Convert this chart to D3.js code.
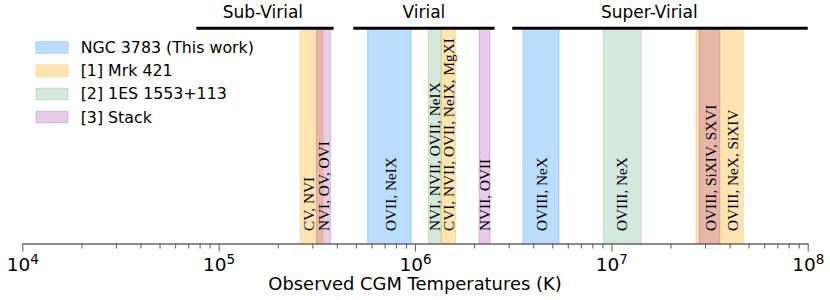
<!DOCTYPE html>
<html>
<head>
<meta charset="utf-8">
<script src="https://cdn.jsdelivr.net/npm/d3@7"></script>
<style>
  body { margin: 0; background: #fff; }
  svg { display: block; }
</style>
</head>
<body>
<div class="container"></div>
<script>
// temperature regimes drawn as bars over the top of the plot
const regionNames = ["Sub-Virial", "Virial", "Super-Virial"];
const regionLow = [7.7e4, 4.85e5, 3.13e6];
const regionHigh = [3.85e5, 2.54e6, 1e8];
const regionLabelT = [1.68e5, 1.11e6, 1.56e7];

// legend entries
const sources = ["NGC 3783 (This work)", "[1] Mrk 421", "[2] 1ES 1553+113", "[3] Stack"];

// temperature bands (K): source index, range, ion label, label position
const bandSource = [1, 3, 0, 2, 1, 3, 0, 2, 1, 3];
const bandLow = [2.6e5, 3.15e5, 5.74e5, 1.17e6, 1.36e6, 2.12e6, 3.54e6, 9.1e6, 2.7e7, 2.8e7];
const bandHigh = [3.4e5, 3.71e5, 9.55e5, 1.36e6, 1.61e6, 2.41e6, 5.41e6, 1.42e7, 4.7e7, 3.57e7];
const bandLabel = [
  "CV, NVI",
  "NVI, OV, OVI",
  "OVII, NeIX",
  "NVI, NVII, OVII, NeIX",
  "CVI, NVII, OVII, NeIX, MgXI",
  "NVII, OVII",
  "OVIII, NeX",
  "OVIII, NeX",
  "OVIII, NeX, SiXIV",
  "OVIII, SiXIV, SXVI"
];
const bandLabelT = [2.86e5, 3.41e5, 7.46e5, 1.254e6, 1.478e6, 2.254e6, 4.42e6, 1.129e7, 4.13e7, 3.18e7];

// axis ticks
const majorTicks = [1e4, 1e5, 1e6, 1e7, 1e8];
const majorExponents = ["4", "5", "6", "7", "8"];

const colors = ["dodgerblue", "orange", "seagreen", "purple"];
const alphas = [0.3, 0.3, 0.2, 0.2];

const width = 830;
const height = 300;
const plotTop = 28.3;
const axisY = 243.5;

function drawChart() {
  const svg = d3
    .select(".container")
    .append("svg")
    .attr("width", width)
    .attr("height", height);

  const x = d3.scaleLog().domain([1e4, 1e8]).range([22.3, 807.7]);

  const bands = d3.range(bandLow.length);

  svg
    .append("g")
    .attr("id", "bands")
    .selectAll("rect")
    .data(bands)
    .enter()
    .append("rect")
    .attr("x", i => x(bandLow[i]))
    .attr("y", plotTop)
    .attr("width", i => x(bandHigh[i]) - x(bandLow[i]))
    .attr("height", axisY - plotTop)
    .attr("fill", i => colors[bandSource[i]])
    .attr("fill-opacity", i => alphas[bandSource[i]])
    .attr("stroke", i => colors[bandSource[i]])
    .attr("stroke-opacity", i => alphas[bandSource[i]])
    .attr("stroke-width", 1);

  svg
    .append("g")
    .attr("id", "band-labels")
    .selectAll("text")
    .data(bands)
    .enter()
    .append("text")
    .attr("transform", i => `translate(${x(bandLabelT[i])}, 231) rotate(-90)`)
    .attr("text-anchor", "start")
    .attr("dominant-baseline", "central")
    .attr("font-family", "Liberation Serif, serif")
    .attr("font-size", 15.3)
    .attr("fill", "#000")
    .text(i => bandLabel[i]);

  // regime bars and titles
  const regions = svg.append("g").attr("id", "regions");
  regions
    .selectAll("line")
    .data(regionNames)
    .enter()
    .append("line")
    .attr("x1", (d, i) => x(regionLow[i]))
    .attr("x2", (d, i) => x(regionHigh[i]))
    .attr("y1", plotTop)
    .attr("y2", plotTop)
    .attr("stroke", "#000")
    .attr("stroke-width", 3);
  regions
    .selectAll("text")
    .data(regionNames)
    .enter()
    .append("text")
    .attr("x", (d, i) => x(regionLabelT[i]))
    .attr("y", 17.5)
    .attr("text-anchor", "middle")
    .attr("font-family", "DejaVu Sans, sans-serif")
    .attr("font-size", 17)
    .text(d => d);

  // x axis
  const minorTicks = [];
  majorTicks.slice(0, -1).forEach(t => {
    for (let k = 2; k <= 9; k++) minorTicks.push(t * k);
  });

  svg
    .append("g")
    .attr("id", "x-minor")
    .attr("transform", `translate(0, ${axisY})`)
    .call(d3.axisBottom(x).tickValues(minorTicks).tickSize(5).tickFormat(""))
    .call(g => g.select(".domain").remove())
    .call(g => g.selectAll("line").attr("stroke", "#666").attr("stroke-width", 1.1));

  const xAxis = svg
    .append("g")
    .attr("id", "x-axis")
    .attr("transform", `translate(0, ${axisY})`)
    .call(d3.axisBottom(x).tickValues(majorTicks).tickSize(8).tickSizeOuter(0));

  xAxis.select(".domain").attr("stroke", "#666").attr("stroke-width", 1.3);
  xAxis.selectAll("line").attr("stroke", "#666").attr("stroke-width", 1.1);
  xAxis
    .selectAll("text")
    .attr("y", 27)
    .attr("dy", 0)
    .attr("font-family", "DejaVu Sans, sans-serif")
    .attr("font-size", 18.5)
    .attr("fill", "#000")
    .each(function(d, i) {
      const t = d3.select(this).text("10");
      t.append("tspan")
        .attr("dy", -6.8)
        .attr("font-size", 13.5)
        .text(majorExponents[i]);
    });

  svg
    .append("text")
    .attr("x", x(1e6))
    .attr("y", 289.5)
    .attr("text-anchor", "middle")
    .attr("font-family", "DejaVu Sans, sans-serif")
    .attr("font-size", 17.9)
    .text("Observed CGM Temperatures (K)");

  // legend
  const legend = svg
    .append("g")
    .attr("id", "legend")
    .selectAll("g")
    .data(sources)
    .enter()
    .append("g")
    .attr("transform", (d, i) => `translate(36, ${47.5 + i * 23.2})`);

  legend
    .append("rect")
    .attr("x", 0)
    .attr("y", -5.8)
    .attr("width", 32)
    .attr("height", 11.6)
    .attr("fill", (d, i) => colors[i])
    .attr("fill-opacity", (d, i) => alphas[i])
    .attr("stroke", (d, i) => colors[i])
    .attr("stroke-opacity", (d, i) => alphas[i])
    .attr("stroke-width", 1);

  legend
    .append("text")
    .attr("x", 44.7)
    .attr("y", 0)
    .attr("dominant-baseline", "central")
    .attr("font-family", "DejaVu Sans, sans-serif")
    .attr("font-size", 15.8)
    .text(d => d);
}

document.addEventListener("DOMContentLoaded", drawChart);
</script>
</body>
</html>
